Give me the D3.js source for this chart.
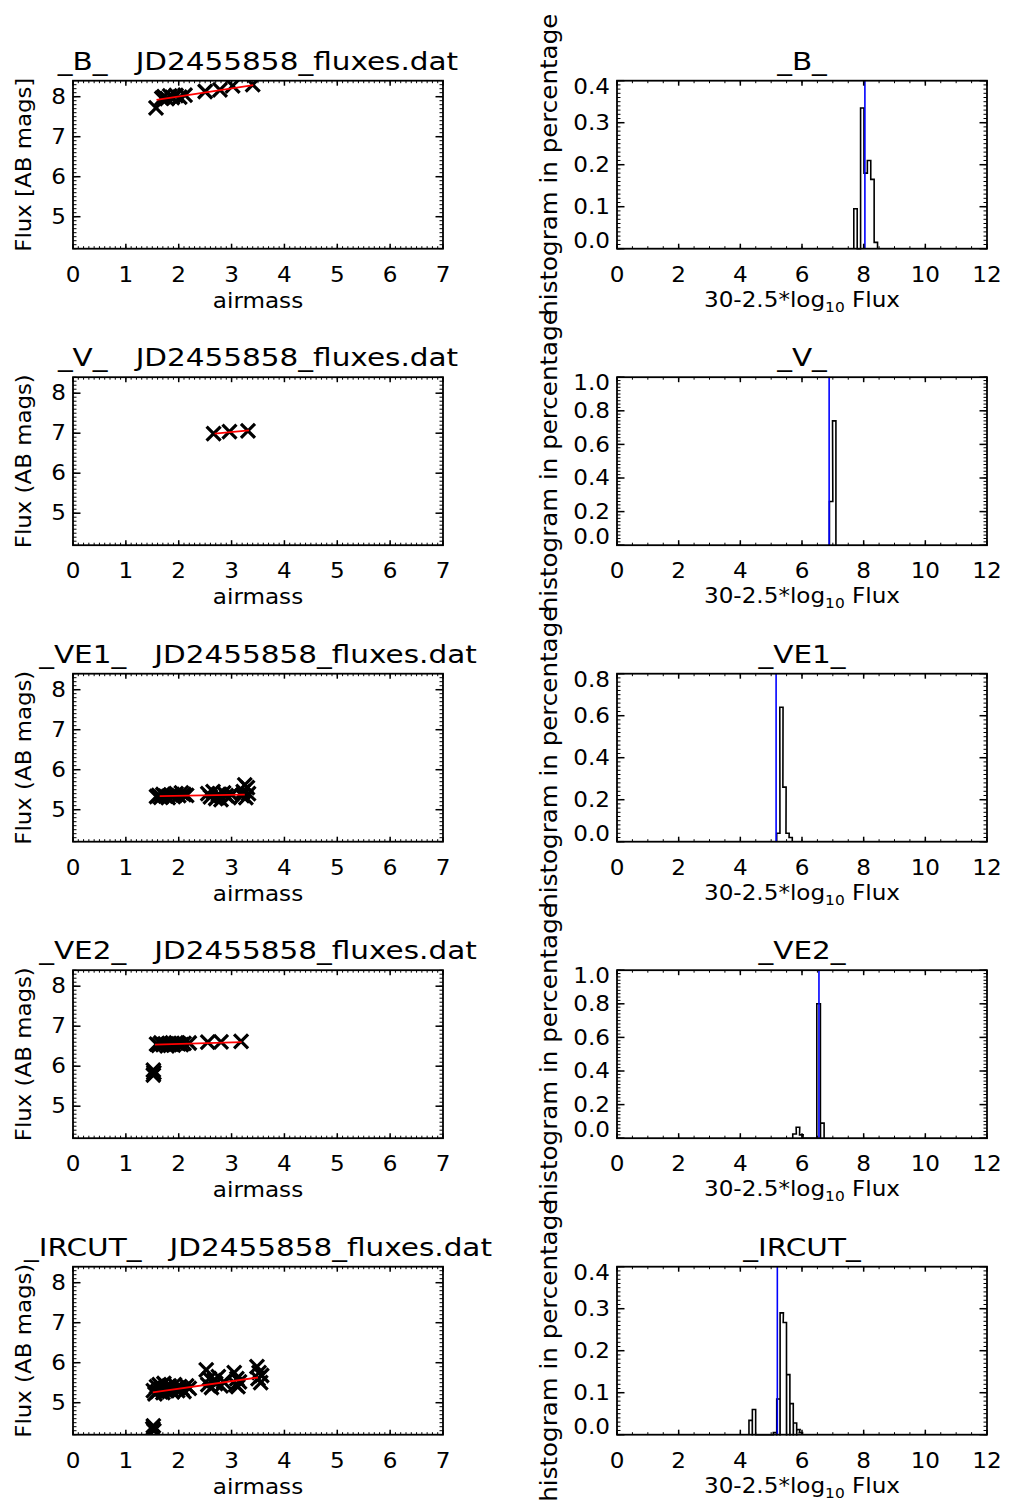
<!DOCTYPE html>
<html><head><meta charset="utf-8">
<script src="https://cdn.jsdelivr.net/npm/d3@7"></script>
<style>body{margin:0;background:#fff}svg{display:block}text{font-family:"DejaVu Sans",sans-serif;fill:#000}</style>
</head><body>
<script>
// ---------- data ----------
const filters = ["_B_", "_V_", "_VE1_", "_VE2_", "_IRCUT_"];
const fileName = "JD2455858_fluxes.dat";
const leftYTitles = ["Flux [AB mags]", "Flux (AB mags)", "Flux (AB mags)", "Flux (AB mags)", "Flux (AB mags)"];
const leftXTitle = "airmass";
const rightYTitle = "histogram in percentage";
const leftXTicks = [0, 1, 2, 3, 4, 5, 6, 7];
const leftYTicks = [5, 6, 7, 8];
const leftYDomain = [4.2, 8.4];
const rightXTicks = [0, 2, 4, 6, 8, 10, 12];
const rightYTicksList = [
  [0, 0.1, 0.2, 0.3, 0.4],
  [0, 0.2, 0.4, 0.6, 0.8, 1.0],
  [0, 0.2, 0.4, 0.6, 0.8],
  [0, 0.2, 0.4, 0.6, 0.8, 1.0],
  [0, 0.1, 0.2, 0.3, 0.4]
];

// scatter: airmass vs magnitude
const B_airmass = [1.57, 1.68, 1.72, 1.78, 1.83, 1.88, 1.95, 2.02, 2.12, 2.50, 2.78, 3.02, 3.40];
const B_mag     = [7.72, 7.96, 8.00, 7.95, 8.02, 7.98, 8.03, 7.99, 8.04, 8.13, 8.17, 8.27, 8.30];
const V_airmass = [2.66, 2.96, 3.31];
const V_mag     = [6.99, 7.04, 7.06];
const VE1_airmass = [1.58, 1.62, 1.66, 1.70, 1.75, 1.80, 1.85, 1.90, 1.95, 2.00, 2.05, 2.10, 2.15,
  2.55, 2.60, 2.65, 2.70, 2.75, 2.80, 2.85, 2.90, 2.95, 3.00, 3.20, 3.22, 3.25, 3.27, 3.30, 3.32];
const VE1_mag = [5.33, 5.36, 5.31, 5.38, 5.34, 5.30, 5.37, 5.33, 5.40, 5.35, 5.42, 5.38, 5.36,
  5.40, 5.32, 5.45, 5.28, 5.38, 5.25, 5.42, 5.35, 5.30, 5.38, 5.35, 5.45, 5.62, 5.30, 5.55, 5.40];
const VE2_airmass = [1.52, 1.53, 1.52, 1.58, 1.62, 1.66, 1.70, 1.74, 1.78, 1.82, 1.86, 1.90, 1.95,
  2.00, 2.05, 2.10, 2.20, 2.55, 2.80, 3.18];
const VE2_mag = [5.78, 5.84, 5.90, 6.55, 6.52, 6.58, 6.54, 6.56, 6.51, 6.57, 6.55, 6.53, 6.58,
  6.56, 6.54, 6.57, 6.58, 6.60, 6.61, 6.62];
const IRCUT_airmass = [1.51, 1.52, 1.53,
  1.52, 1.55, 1.58, 1.60, 1.63, 1.66, 1.70, 1.72, 1.75, 1.78, 1.82, 1.85, 1.88, 1.92, 1.95, 1.98, 2.02, 2.06, 2.10, 2.15, 2.20,
  2.52, 2.55, 2.58, 2.62, 2.66, 2.70, 2.75, 2.80, 2.85,
  3.05, 3.08, 3.10, 3.12, 3.15,
  3.48, 3.50, 3.52, 3.55, 3.57];
const IRCUT_mag = [4.35, 4.42, 4.30,
  5.30, 5.22, 5.40, 5.28, 5.45, 5.35, 5.25, 5.48, 5.38, 5.30, 5.42, 5.33, 5.27, 5.45, 5.36, 5.30, 5.40, 5.35, 5.28, 5.42, 5.36,
  5.82, 5.45, 5.60, 5.38, 5.55, 5.48, 5.65, 5.42, 5.52,
  5.75, 5.45, 5.60, 5.40, 5.52,
  5.90, 5.60, 5.75, 5.50, 5.68];

// linear fits (red): endpoints
const B_fitX = [1.58, 3.41],   B_fitY = [7.92, 8.29];
const V_fitX = [2.68, 3.33],   V_fitY = [6.99, 7.07];
const VE1_fitX = [1.64, 3.25], VE1_fitY = [5.34, 5.375];
const VE2_fitX = [1.55, 3.19], VE2_fitY = [6.54, 6.60];
const IRCUT_fitX = [1.51, 3.50], IRCUT_fitY = [5.26, 5.63];

// histograms: bin starts and fractions, bin width, median (blue)
const B_binStart = [7.68, 7.79, 7.90, 8.01, 8.12, 8.23, 8.34];
const B_frac     = [0.095, 0.0, 0.335, 0.18, 0.21, 0.165, 0.015];
const B_binW = 0.11, B_median = 8.04;
const V_binStart = [6.89, 6.99];
const V_frac     = [0.26, 0.74];
const V_binW = 0.11, V_median = 6.88;
const VE1_binStart = [5.18, 5.28, 5.38, 5.48, 5.58];
const VE1_frac     = [0.04, 0.64, 0.26, 0.04, 0.02];
const VE1_binW = 0.105, VE1_median = 5.16;
const VE2_binStart = [5.70, 5.81, 5.92, 6.03, 6.14, 6.25, 6.36, 6.48, 6.60];
const VE2_frac     = [0.025, 0.065, 0.02, 0, 0, 0, 0, 0.80, 0.09];
const VE2_binW = 0.117, VE2_median = 6.55;
const IRCUT_binStart = [4.28, 4.39, 5.07, 5.18, 5.29, 5.39, 5.50, 5.61, 5.72, 5.83, 5.91];
const IRCUT_frac     = [0.034, 0.06, 0.005, 0.085, 0.29, 0.267, 0.143, 0.074, 0.028, 0.012, 0.005];
const IRCUT_binW = 0.107, IRCUT_median = 5.20;

const scatterX = [B_airmass, V_airmass, VE1_airmass, VE2_airmass, IRCUT_airmass];
const scatterY = [B_mag, V_mag, VE1_mag, VE2_mag, IRCUT_mag];
const fitXs = [B_fitX, V_fitX, VE1_fitX, VE2_fitX, IRCUT_fitX];
const fitYs = [B_fitY, V_fitY, VE1_fitY, VE2_fitY, IRCUT_fitY];
const binStarts = [B_binStart, V_binStart, VE1_binStart, VE2_binStart, IRCUT_binStart];
const fracs = [B_frac, V_frac, VE1_frac, VE2_frac, IRCUT_frac];
const binWs = [B_binW, V_binW, VE1_binW, VE2_binW, IRCUT_binW];
const medians = [B_median, V_median, VE1_median, VE2_median, IRCUT_median];

// ---------- layout ----------
const W = 1009, H = 1504;
const LX0 = 73, LX1 = 443, RX0 = 617, RX1 = 987;
const TOP0 = 80.7, STEP = 296.5, PH = 168;
const SX = 1.1;

const svg = d3.select("body").append("svg").attr("width", W).attr("height", H);
svg.append("rect").attr("width", W).attr("height", H).attr("fill", "#fff");

function label(g, x, y, s, size, o = {}) {
  const t = g.append("g").attr("transform", `translate(${x},${y})` + (o.rot ? ` rotate(${o.rot})` : "") + ` scale(${o.sx || SX},1)`)
    .append("text").attr("font-size", size).attr("text-anchor", o.anchor || "middle")
    .attr("style", "white-space:pre");
  if (o.baseline) t.attr("dominant-baseline", o.baseline);
  if (o.len) t.attr("textLength", o.len).attr("lengthAdjust", "spacingAndGlyphs");
  t.text(s);
  return t;
}

function frame(g, x, y, xMajor, xMinorStep, yMajor, yMinorStep, yFmt, clampLabels) {
  const [x0, x1] = x.range(), [y0, y1] = y.range(); // y0 bottom, y1 top
  const xd = x.domain(), yd = y.domain();
  const tk = g.append("g").attr("stroke", "#000").attr("fill", "none");
  const xMin = d3.range(Math.ceil(xd[0] / xMinorStep), Math.floor(xd[1] / xMinorStep + 1e-6) + 1).map(k => k * xMinorStep);
  const yMin = d3.range(Math.ceil(yd[0] / yMinorStep - 1e-6), Math.floor(yd[1] / yMinorStep + 1e-6) + 1).map(k => k * yMinorStep);
  const xmL = 5, xmS = 2.5, ymL = 7.5, ymS = 3.5;
  xMin.forEach(v => {
    const px = x(v);
    tk.append("line").attr("x1", px).attr("x2", px).attr("y1", y0).attr("y2", y0 - xmS).attr("stroke-width", 1);
    tk.append("line").attr("x1", px).attr("x2", px).attr("y1", y1).attr("y2", y1 + xmS).attr("stroke-width", 1);
  });
  yMin.forEach(v => {
    const py = y(v);
    tk.append("line").attr("x1", x0).attr("x2", x0 + ymS).attr("y1", py).attr("y2", py).attr("stroke-width", 1);
    tk.append("line").attr("x1", x1).attr("x2", x1 - ymS).attr("y1", py).attr("y2", py).attr("stroke-width", 1);
  });
  xMajor.forEach(v => {
    const px = x(v);
    tk.append("line").attr("x1", px).attr("x2", px).attr("y1", y0).attr("y2", y0 - xmL).attr("stroke-width", 1.5);
    tk.append("line").attr("x1", px).attr("x2", px).attr("y1", y1).attr("y2", y1 + xmL).attr("stroke-width", 1.5);
    label(g, px, y0 + 33, String(v), 21);
  });
  yMajor.forEach(v => {
    let py = y(v);
    tk.append("line").attr("x1", x0).attr("x2", x0 + ymL).attr("y1", py).attr("y2", py).attr("stroke-width", 1.5);
    tk.append("line").attr("x1", x1).attr("x2", x1 - ymL).attr("y1", py).attr("y2", py).attr("stroke-width", 1.5);
    if (clampLabels) py = Math.max(y1 + 6, Math.min(y0 - 8, py));
    label(g, x0 - 7, py, yFmt(v), 21, { anchor: "end", baseline: "central" });
  });
  g.append("rect").attr("x", x0).attr("y", y1).attr("width", x1 - x0).attr("height", y0 - y1)
    .attr("fill", "none").attr("stroke", "#000").attr("stroke-width", 1.8);
}

filters.forEach((f, i) => {
  const top = TOP0 + i * STEP, bot = top + PH, mid = top + PH / 2;

  // ----- left: scatter -----
  const gl = svg.append("g");
  const x = d3.scaleLinear().domain([0, 7]).range([LX0, LX1]);
  const y = d3.scaleLinear().domain(leftYDomain).range([bot, top]);
  const pts = scatterX[i].map((a, k) => [a, scatterY[i][k]]);
  const clipId = "clipL" + i;
  gl.append("clipPath").attr("id", clipId).append("rect").attr("x", LX0).attr("y", top).attr("width", LX1 - LX0).attr("height", PH);
  const pg = gl.append("g").attr("clip-path", `url(#${clipId})`);
  const r = 7;
  pg.selectAll("path.x").data(pts).join("path")
    .attr("d", d => `M${x(d[0]) - r},${y(d[1]) - r}L${x(d[0]) + r},${y(d[1]) + r}M${x(d[0]) - r},${y(d[1]) + r}L${x(d[0]) + r},${y(d[1]) - r}`)
    .attr("stroke", "#000").attr("stroke-width", 3.2).attr("fill", "none");
  pg.append("path").datum(fitXs[i].map((a, k) => [a, fitYs[i][k]]))
    .attr("d", d3.line().x(d => x(d[0])).y(d => y(d[1])))
    .attr("stroke", "#ff0000").attr("stroke-width", 1.8).attr("fill", "none");
  frame(gl, x, y, leftXTicks, 0.1, leftYTicks, 0.1, d3.format("d"), false);
  label(gl, (LX0 + LX1) / 2, top - 11, `${f}\u00A0\u00A0\u00A0${fileName}`, 25, { sx: 1.18 });
  label(gl, (LX0 + LX1) / 2, bot + 59, leftXTitle, 21);
  label(gl, 31, mid, leftYTitles[i], 21, { rot: -90, sx: 1, len: 174 });

  // ----- right: histogram -----
  const gr = svg.append("g");
  const yt = rightYTicksList[i];
  const hx = d3.scaleLinear().domain([0, 12]).range([RX0, RX1]);
  const hy = d3.scaleLinear().domain([0, yt[yt.length - 1]]).range([bot, top]);
  const bs = binStarts[i], fr = fracs[i], bw = binWs[i];
  const hp = [[bs[0], 0]];
  bs.forEach((s, k) => {
    hp.push([s, fr[k]], [s + bw, fr[k]]);
    if (k < bs.length - 1 && bs[k + 1] > s + bw + 1e-6) hp.push([s + bw, 0], [bs[k + 1], 0]);
  });
  hp.push([bs[bs.length - 1] + bw, 0]);
  gr.append("path").datum(hp).attr("d", d3.line().x(d => hx(d[0])).y(d => hy(d[1])))
    .attr("stroke", "#000").attr("stroke-width", 1.6).attr("fill", "none");
  gr.append("line").attr("x1", hx(medians[i])).attr("x2", hx(medians[i])).attr("y1", top).attr("y2", bot)
    .attr("stroke", "#0000ff").attr("stroke-width", 1.6);
  const step = yt[1] - yt[0];
  frame(gr, hx, hy, rightXTicks, 0.5, yt, step / 10, d3.format(".1f"), true);
  label(gr, (RX0 + RX1) / 2, top - 11, f, 25, { sx: 1.18 });
  const xt = label(gr, (RX0 + RX1) / 2, bot + 58, "", 21);
  xt.append("tspan").text("30-2.5*log");
  xt.append("tspan").attr("font-size", 14).attr("dy", 5).text("10");
  xt.append("tspan").attr("dy", -5).text("\u00A0Flux");
  label(gr, 557, mid, rightYTitle, 23, { rot: -90, sx: 1, len: 302 });
});
</script>
</body></html>
